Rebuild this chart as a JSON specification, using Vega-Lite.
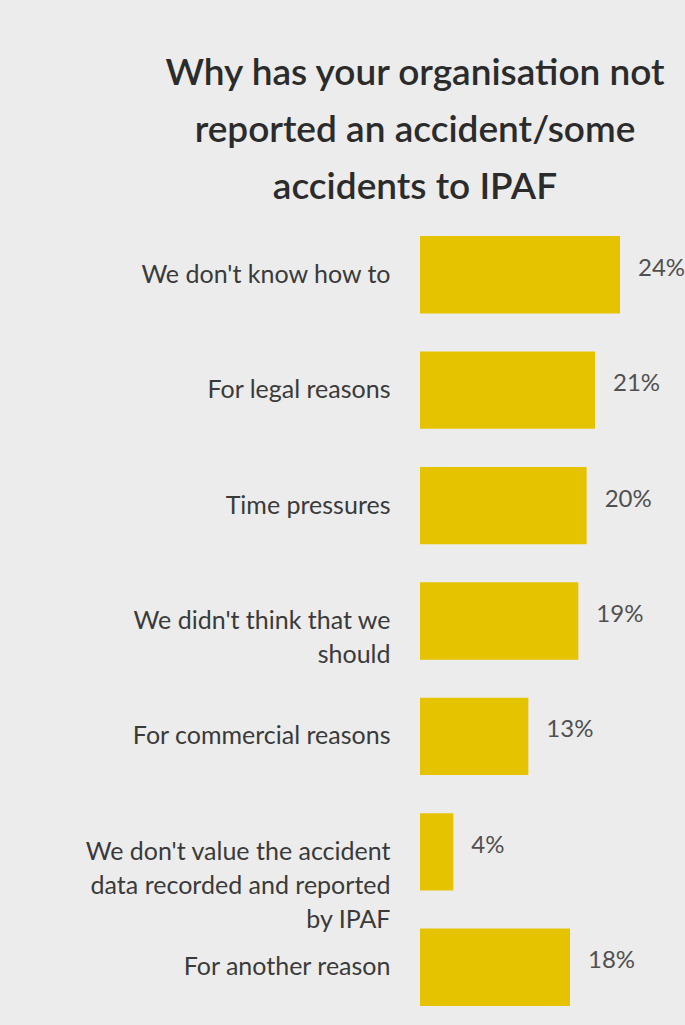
{
  "$schema": "https://vega.github.io/schema/vega-lite/v6.json",
  "autosize": "none",
  "width": 250,
  "height": 808,
  "padding": {"left": 420, "top": 217, "right": 15, "bottom": 0},
  "background": "#ececec",
  "title": {
    "text": ["Why has your organisation not", "reported an accident/some", "accidents to IPAF"],
    "anchor": "middle",
    "frame": "group",
    "dx": -130,
    "offset": 10,
    "font": "Lato",
    "fontSize": 37,
    "fontWeight": 600,
    "lineHeight": 57,
    "color": "#2b2b2b"
  },
  "data": {
    "values": [
      {"reason": "We don't know how to", "pct": 0.24, "order": 1},
      {"reason": "For legal reasons", "pct": 0.21, "order": 2},
      {"reason": "Time pressures", "pct": 0.20, "order": 3},
      {"reason": "We didn't think that we|should", "pct": 0.19, "order": 4},
      {"reason": "For commercial reasons", "pct": 0.13, "order": 5},
      {"reason": "We don't value the accident|data recorded and reported|by IPAF", "pct": 0.04, "order": 6},
      {"reason": "For another reason", "pct": 0.18, "order": 7}
    ]
  },
  "encoding": {
    "y": {
      "field": "reason",
      "type": "nominal",
      "sort": {"field": "order"},
      "scale": {"paddingInner": 0.33, "paddingOuter": 0.165},
      "axis": {
        "title": null,
        "domain": false,
        "ticks": false,
        "labelExpr": "split(datum.label, '|')",
        "labelFont": "Lato",
        "labelFontSize": 25,
        "labelColor": "#3a3a3a",
        "labelPadding": 30,
        "labelLineHeight": 34,
        "labelLimit": 400
      }
    },
    "x": {
      "field": "pct",
      "type": "quantitative",
      "scale": {"domain": [0, 0.3]},
      "axis": null
    }
  },
  "layer": [
    {"mark": {"type": "bar", "color": "#e5c300"}},
    {
      "mark": {"type": "text", "align": "left", "dx": 18, "dy": -6, "font": "Lato", "fontSize": 24, "color": "#505050"},
      "encoding": {"text": {"field": "pct", "type": "quantitative", "format": ".0%"}}
    }
  ],
  "config": {"view": {"stroke": null}}
}
